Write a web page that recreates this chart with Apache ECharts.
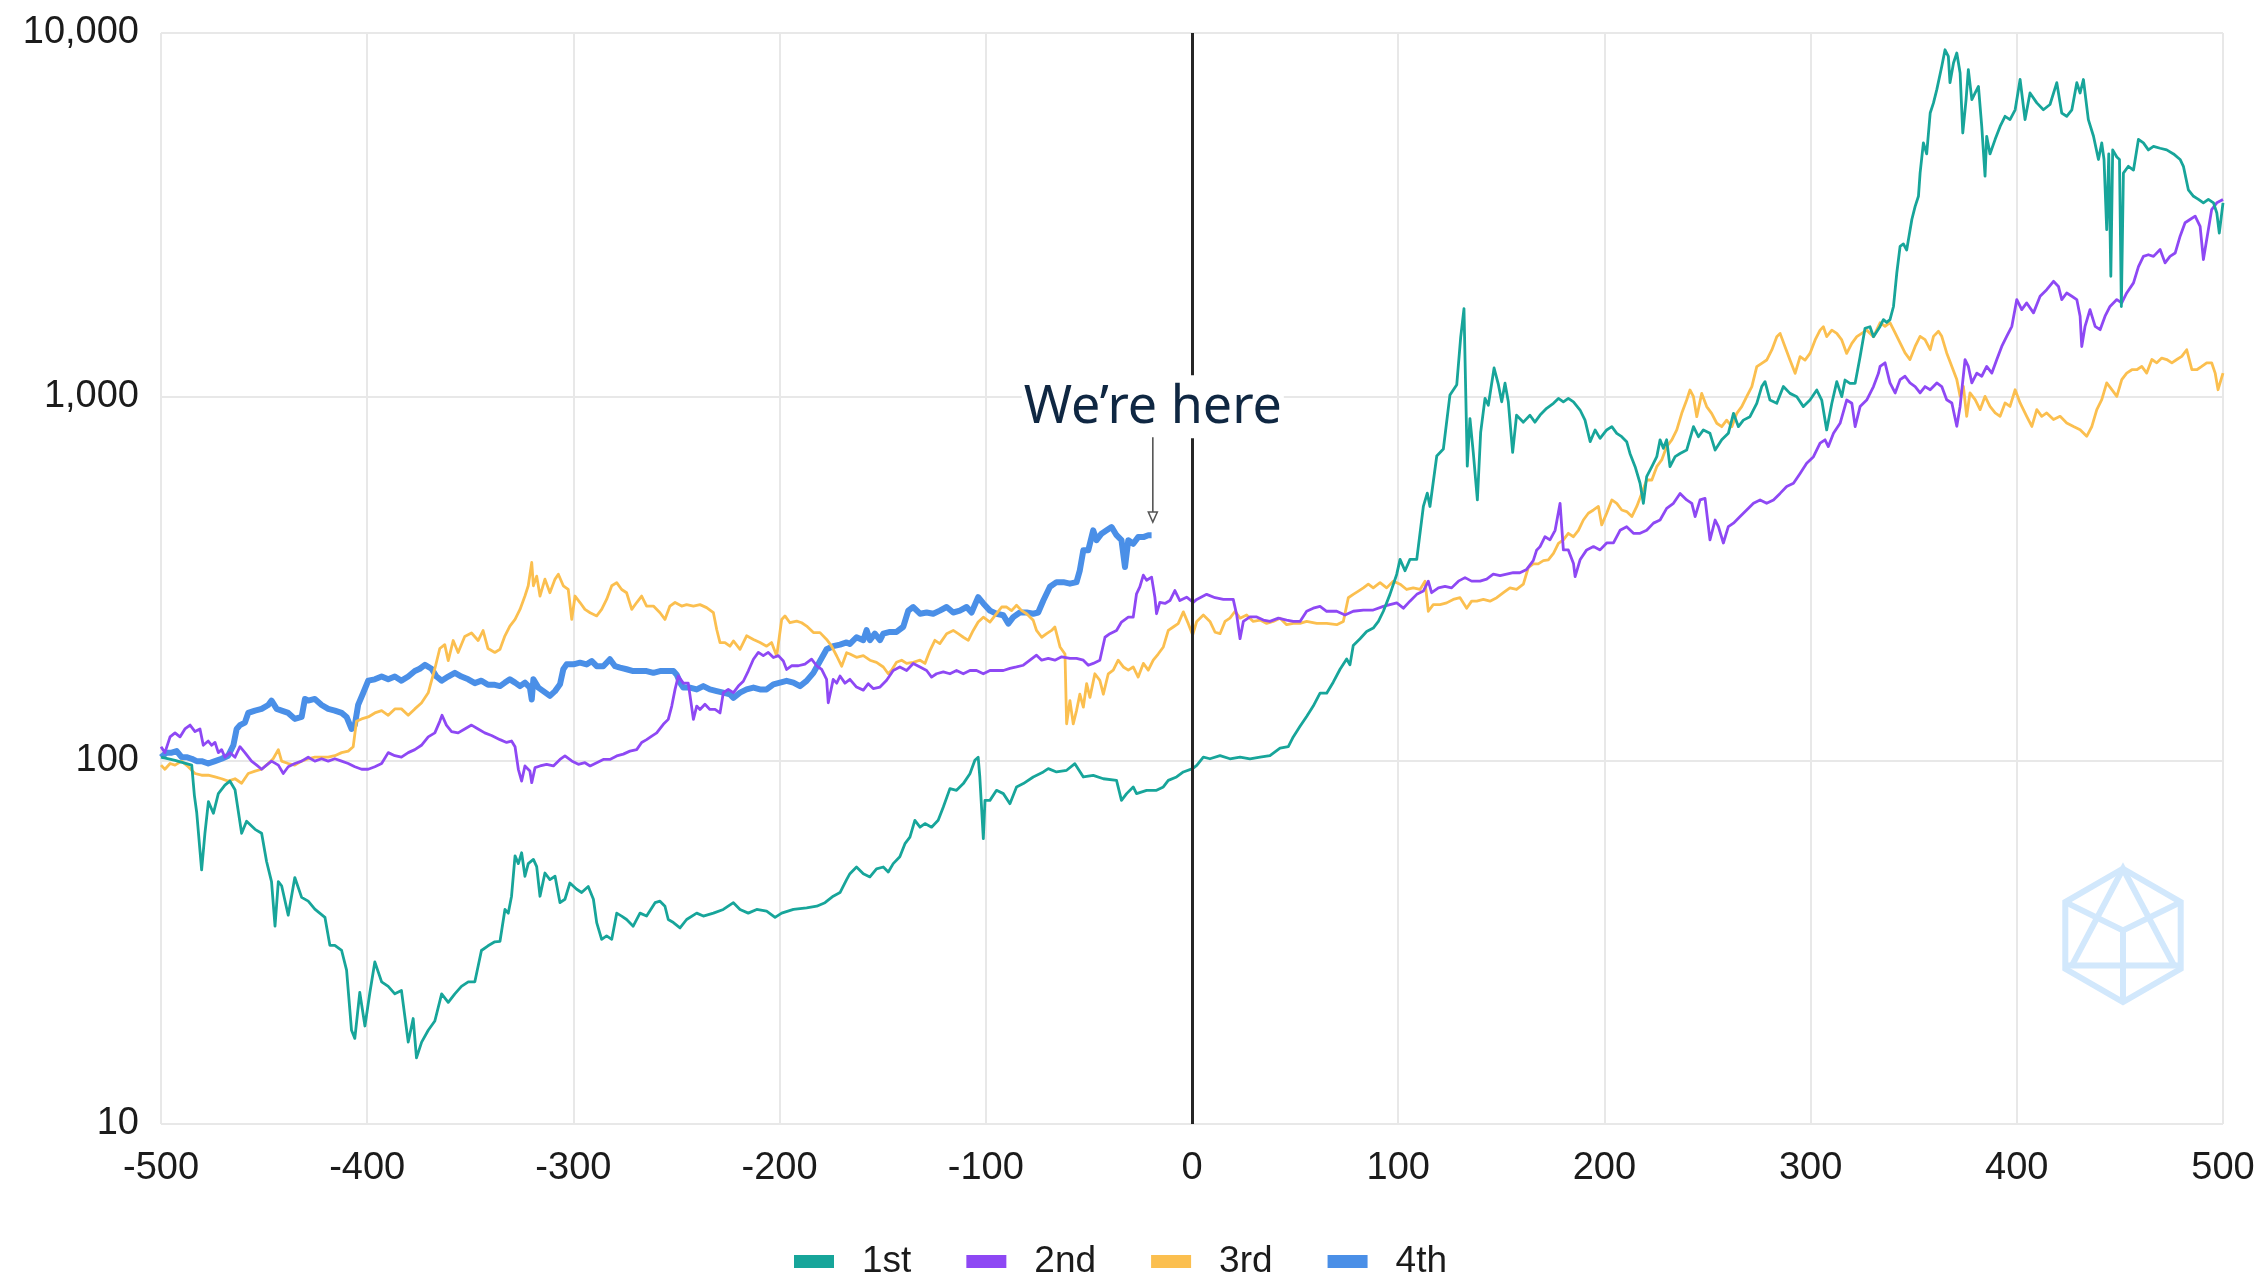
<!DOCTYPE html>
<html><head><meta charset="utf-8">
<script src="https://cdn.jsdelivr.net/npm/echarts@6/dist/echarts.min.js"></script>
<style>html,body{margin:0;padding:0;background:#fff}#c{width:2258px;height:1277px}</style>
</head><body><div id="c"></div>
<script>
const seriesNames = ['1st', '2nd', '3rd', '4th'];
const seriesColors = ['#17a59a', '#8e48f4', '#fbbf4f', '#4a8fe7'];

const firstSeries = [[-500,102],[-493.2,100],[-485.1,97],[-483.8,80],[-482.7,72],[-480.3,50],[-478.7,63],[-477,77],[-474.6,71.5],[-472.2,81],[-469,85.5],[-466.6,87.7],[-464.1,83],[-460.9,63],[-458.5,68],[-454.4,64.6],[-451.2,63],[-448.8,52.7],[-446.4,46.4],[-444.7,35],[-443.1,46.4],[-441.5,45.2],[-438.3,37.5],[-435.1,47.6],[-431.8,42],[-428.6,41],[-425.4,39],[-420.5,37],[-418.1,31],[-415.7,31],[-412.4,30],[-410,26.5],[-407.6,18.1],[-406,17.2],[-403.6,23],[-401.1,18.6],[-398.7,23],[-396.3,27.9],[-393,24.6],[-389.8,23.9],[-386.6,22.8],[-383.4,23.3],[-380.1,16.8],[-377.7,19.5],[-376.1,15.2],[-373.6,16.8],[-370.4,18.1],[-367.2,19.2],[-363.9,22.8],[-360.7,21.6],[-357.5,22.8],[-354.3,23.9],[-351,24.6],[-347.8,24.6],[-344.6,30],[-341.4,30.9],[-338.1,31.7],
[-335.6,31.8],[-333.2,38.9],[-331.6,38],[-330,42.3],[-328.3,54.6],[-326.7,52],[-325.1,55.7],[-323.5,48],[-321.9,52],[-319.4,53.4],[-317.8,51],[-316.2,42.3],[-313.8,49],[-311.4,47],[-308.9,48],[-306.5,40.6],[-304.1,41.5],[-301.7,46],[-298.4,44.2],[-296,43.3],[-292.8,45],[-290.3,41.5],[-288.7,35.8],[-286.3,32.2],[-283.9,32.9],[-281.4,32.2],[-279,38],[-276.6,37.3],[-274.2,36.5],[-271,35],[-267.7,38],[-264.5,37.3],[-260.4,40.6],[-258,41],[-255.6,39.7],[-254,36.5],[-251.5,35.8],[-248.3,34.6],[-245.1,36.5],[-240.2,38],[-237,37.3],[-232.1,38],[-227.3,38.9],[-222.4,40.6],[-219.2,38.9],[-215.2,38],[-211.1,38.9],[-206.3,38.5],[-202.2,37],[-199,38],[-193.3,38.9],[-186.9,39.3],[-182,39.7],[-178,40.6],[-174,42.3],[-170.7,43.3],[-167.5,47],
[-165.9,48.8],[-162.7,50.9],[-159.4,48.8],[-156.2,47.8],[-153,50.3],[-149.7,50.9],[-147.3,49.3],[-144.9,52],[-141.7,54.3],[-139.2,59],[-136.8,61.5],[-134.4,68.4],[-131.9,65.5],[-129.5,67],[-126.3,65.5],[-123.1,68.4],[-120.6,74.4],[-117.4,83.6],[-114.2,82.7],[-110.9,86.3],[-107.7,91.9],[-105.3,100],[-103.7,102],[-102.9,90],[-101.2,60.9],[-100.4,77.6],[-98,77.6],[-94.8,82.7],[-91.5,81],[-88.3,76],[-85.1,84.5],[-81.8,86.3],[-77,90],[-72.1,92.9],[-69.7,94.9],[-65.7,92.9],[-60.8,93.9],[-56.8,97.9],[-52.7,90],[-47.9,90.9],[-43,89],[-36.6,88.1],[-34.2,77.6],[-31.7,81],[-28.5,84.5],[-26.9,81],[-22,82.7],[-17.2,82.7],[-13.9,84.5],[-11.5,88.1],[-7.5,90],[-4.2,92.9],[0.3,94.9],
[2.3,96.8],[5.5,102],[8.7,101],[13.6,103],[18.4,101],[23.3,102],[28.1,101],[33,102],[37.8,103],[42.7,108],[46.7,109],[49.1,116],[52.4,124],[55.6,132],[58.8,141],[62.1,153],[65.3,153],[68.5,164],[71.8,178],[75,190],[76.6,183],[78.2,207],[81.5,216],[84.7,226],[87.9,231],[90.4,241],[92.8,257],[96,286],[99.3,325],[100.9,357],[103.3,332],[105.7,357],[109,357],[112.2,499],[114.1,543],[115.4,499],[118.7,687],[121.9,718],[125.1,1011],[128.4,1079],[130.3,1456],[131.9,1746],[133.5,644],[134.8,870],[136.4,703],[138.4,520],[140,798],[142.1,989],[143.7,947],[146.5,1199],[148.6,1079],[150.2,968],[151.8,1089],[153.4,968],[155.5,703],[157.4,889],[160.7,851],[163.9,889],[166.3,851],
[168.8,890],[172,929],[175.3,959],[177.7,989],[180.1,968],[182.5,989],[185,968],[188.2,919],[190.6,862],[193.1,752],[195.5,810],[197.9,768],[201.1,810],[203.6,827],[206,793],[208.4,776],[210.8,752],[212.4,698],[214.9,642],[217.3,578],[218.9,509],[220.5,603],[223,642],[225.4,684],[227,761],[228.6,721],[230.2,761],[231.8,642],[234.3,684],[236.7,698],[239.9,713],[243.2,827],[245.6,776],[248,810],[251.2,793],[253.7,713],[256.9,761],[260.1,793],[262.6,900],[265,827],[267.4,862],[270.6,881],[273.9,959],[276.3,1066],[277.9,1100],[280.3,979],[283.6,959],[286.8,1066],[290,1021],[293.3,1000],[296.5,939],[299.7,979],[303,1043],[305.4,979],[307.8,810],[310.3,959],[312.7,1100],[315.1,1000],[316.7,1111],[319.1,1088],[321.6,1088],[324,1288],[326.4,1542],[328.8,1557],[330.5,1462],
[333.7,1560],[335.3,1629],[336.9,1600],[338.5,1629],[340.2,1770],[341.8,2188],[343.4,2590],[345,2630],[346.6,2530],[349.1,3070],[350.7,3337],[352.3,3556],[353.1,4120],[354.7,4986],[356.3,4650],[358,6026],[359.6,6424],[361.2,6987],[363.6,8093],[365.2,8992],[366.8,8620],[367.6,7300],[369.3,8270],[370.9,8810],[372.5,7762],[373.8,5310],[375.4,6560],[376.5,7930],[378.2,6560],[379.8,6840],[381.4,7130],[383,5536],[384.6,4040],[385.4,5200],[387,4650],[389.5,5100],[391.9,5536],[394.3,5900],[396.7,5780],[399.2,6150],[401.6,7450],[404,5780],[406.4,6840],[409.7,6424],[412.9,6150],[416.1,6360],[419.4,7300],[421.8,6026],[424.2,5900],[426.7,6150],[429.1,7300],[430.7,6840],[432.3,7450],[434.7,5780],[437.2,5200],[439.6,4490],[441.2,4986],[442.3,4490],[443.6,2878],[444.6,4650],[445.6,2143],[446.5,4770],[448.5,4560],[449.8,4490],[450.7,1770],[451.7,4120],[454.1,4300],[456.6,4200],[459,5100],[461.4,4986],[463.8,4770],[466.3,4880],[469.5,4820],[472.7,4770],[476,4650],[479.2,4490],[480.8,4300],[483.2,3705],[485.7,3556],[488.1,3487],[490.5,3410],[492.9,3487],[495.4,3410],[497,3199],[498.2,2818],[500,3410]];

const secondSeries = [[-500,109],[-498.1,105],[-495.6,116],[-493.2,119],[-490.8,116],[-488.4,122],[-485.9,125],[-483.5,120],[-481.1,122],[-479.5,110],[-477.1,113],[-475.4,110],[-473.8,112],[-472.2,105],[-470.6,107],[-469,102],[-466.6,105],[-464.1,102],[-461.7,109],[-459.3,105],[-456.1,99.5],[-453.6,97],[-451.2,94.5],[-448.8,97],[-446.4,99.5],[-443.1,97],[-440.7,92],[-438.3,96],[-435.1,98],[-431.8,99.5],[-428.6,102],[-425.4,99.5],[-422.1,101],[-418.9,99.5],[-415.7,101],[-412.4,99.5],[-409.2,98],[-406,96],[-402.7,94.5],[-399.5,94.5],[-396.3,96],[-393,98],[-389.8,105],[-386.6,103],[-383.4,102],[-380.1,105],[-376.9,107],[-373.7,110],[-370.4,116],[-367.2,119],[-364.8,128],[-363.7,133],[-361.6,125],[-359.1,120],[-355.9,119],[-352.7,122],[-349.4,125],[-346.2,122],[-343,119],[-339.7,117],
[-335.6,114],[-332.4,112],[-330,113],[-328.3,109],[-326.7,94.5],[-325.1,87.7],[-323.5,96.5],[-321.1,93.5],[-320.2,86.8],[-318.6,95.5],[-316.2,96.5],[-313,97.5],[-309.7,96.5],[-306.5,100.6],[-304.1,102.8],[-300.8,99.6],[-297.6,97.5],[-294.4,98.5],[-291.9,96.5],[-288.7,98.5],[-285.5,100.6],[-282.3,100.6],[-279,102.8],[-275.8,104],[-272.6,106],[-269.3,107],[-266.9,112],[-264.5,114],[-262,116.6],[-259.6,119],[-256.4,125.6],[-254,129.6],[-252.3,141],[-250.7,156.7],[-249.1,170.6],[-246.7,163],[-244.3,163],[-241.8,129.6],[-240.2,141],[-238.6,138],[-236.2,142.6],[-233.8,138],[-231.3,138],[-228.9,135],[-227.3,153.5],[-224.9,156.7],[-222.4,153.5],[-220,160],[-217.6,165],[-215.2,176],[-212.7,189.7],[-210.3,198],[-207.9,194],[-205.5,198],[-203,191.8],[-200.6,194],[-198.2,187.5],[-196.6,177.8],[-194.2,182],[-190.9,182],[-187.7,184],[-184.5,189.7],[-182,182],[-179.6,177.8],[-177.2,167],[-176.4,144],[-174,167],[-172.3,163],[-170.7,170.6],[-168.3,163],[-165.9,167],
[-162.7,159],[-159.4,156],[-157,162.5],[-154.6,157.5],[-151.3,159],[-148.1,166],[-144.9,176.6],[-141.7,180.6],[-138.4,176.6],[-135.2,184.7],[-131.9,180.6],[-128.7,176.6],[-126.3,169.4],[-123.9,173],[-120.6,175],[-117.4,173],[-114.2,176.6],[-110.9,173],[-107.7,176.6],[-104.5,176.6],[-101.2,173],[-98,176.6],[-94.8,176.6],[-91.5,176.6],[-88.3,179],[-85.1,180.6],[-81.8,182.6],[-78.6,188.5],[-75.4,194.6],[-72.9,188.5],[-69.7,190.6],[-66.5,188.5],[-63.2,192.6],[-59.2,190.6],[-56,190.6],[-52.7,188.5],[-50.3,182.6],[-47.9,184.7],[-44.7,188.5],[-42.2,218],[-39.8,223],[-36.6,227.6],[-34.2,240],[-30.9,247.6],[-28.5,247.6],[-26.9,287],[-25.3,300],[-23.6,323],[-22,312.7],[-19.6,319],[-18,281],[-17.2,253],[-15.6,272],[-13.1,270],[-10.7,275],[-8.3,293],[-5.9,275],[-2.6,281],[0.6,272],
[2.3,277],[7.1,286],[11.2,280],[15.2,277],[20,277],[21.7,251],[23.3,216],[24.9,241],[28.1,248],[31.4,248],[34.6,243],[37.8,241],[41.9,246],[45.9,243],[49.1,241],[52.4,241],[55.6,257],[58.8,262],[62.1,265],[65.3,257],[70.2,257],[74.2,251],[78.2,257],[83.1,259],[87.9,259],[92.8,265],[96,268],[99.3,271],[102.5,262],[105.7,274],[109,286],[112.2,292],[114.6,311],[116.2,289],[119.5,298],[122.7,301],[125.9,298],[129.2,311],[132.4,318],[135.6,311],[139.7,311],[142.9,315],[146.1,325],[149.4,322],[152.6,325],[155.8,328],[159,328],[162.3,335],[165.5,354],[167.1,378],
[168.8,387],[171.2,412],[173.6,404],[176.1,429],[178.5,509],[180.1,379],[182.5,379],[185,348],[185.8,320],[188.2,356],[191.4,379],[194.7,387],[197.9,379],[201.1,396],[204.4,396],[207.6,429],[210.8,439],[214.1,421],[217.3,421],[220.5,429],[223.8,449],[227,458],[230.2,493],[233.5,509],[236.7,542],[239.9,520],[242.4,509],[244,468],[246.4,520],[248.8,525],[251.2,404],[253.7,458],[255.3,439],[257.7,396],[260.1,439],[262.6,449],[265.8,468],[269,488],[272.3,509],[275.5,520],[278.7,509],[282,520],[285.2,542],[288.4,566],[291.7,578],[294.9,615],[298.1,656],[301.4,684],[304.6,745],[307,761],[308.6,729],[311.1,793],[314.3,845],[317.5,979],[320,959],[321.6,827],[324,939],[327.2,979],[330.5,1066],[332.9,1159],
[333.7,1211],[336.1,1239],[338.5,1091],[341,1024],[343.4,1114],[345.8,1138],[348.2,1091],[350.7,1066],[353.1,1024],[355.5,1066],[358,1045],[361.2,1091],[363.6,1066],[366,981],[368.5,961],[370.9,829],[372.5,940],[374.9,1265],[376.5,1211],[378.2,1091],[380.6,1161],[383,1138],[385.4,1211],[387.9,1161],[390.3,1265],[392.7,1374],[395.1,1465],[397.6,1561],[400,1849],[402.4,1735],[404.8,1810],[408.1,1700],[411.3,1888],[414.5,1968],[417.8,2076],[420.2,2010],[421.8,1849],[424.2,1928],[426.7,1888],[429.1,1849],[430.7,1664],[431.5,1374],[433.1,1561],[435.5,1735],[438,1561],[440.4,1528],[442.8,1664],[445.2,1770],[448.5,1849],[450.9,1810],[453.3,1928],[456.6,2055],[459,2279],[461.4,2431],[463.8,2456],[466.3,2431],[469.5,2538],[471.9,2333],[474.3,2431],[476.8,2483],[479.2,2762],[481.6,3007],[484,3070],[486.5,3137],[488.9,2940],[490.5,2383],[492.1,2705],[494.5,3268],[497,3412],[500,3485]];

const thirdSeries = [[-500,97],[-498.1,94.5],[-495.6,98],[-493.2,97],[-490,99.5],[-486.8,96],[-483.5,92],[-480.3,91],[-477.1,91],[-473.8,90],[-470.6,89],[-467.4,87.7],[-464.1,89],[-460.9,86.5],[-457.7,92],[-454.4,93.4],[-451.2,94.5],[-448,98],[-445.6,101],[-443.1,107],[-441.5,99.5],[-438.3,98],[-435.1,97],[-431.8,99.5],[-428.6,101],[-425.4,102],[-422.1,102],[-418.9,102],[-415.7,103],[-412.4,105],[-409.2,106],[-406.8,109],[-405.2,128],[-402.7,130],[-399.5,131.6],[-396.3,135],[-393,137],[-389.8,133],[-386.6,138.5],[-383.4,138.5],[-380.1,133],[-376.9,138.5],[-373.7,143.8],[-370.4,153.4],[-367.2,178.6],[-364.8,203],[-362.4,208],[-360.7,188],[-358.3,213.5],[-355.9,198],[-352.7,219],[-349.4,224],[-346.2,213.5],[-343.8,227.5],[-341.4,203],[-338.1,198],
[-335.6,202],[-333.2,220],[-330.8,234],[-328.3,244],[-325.9,260],[-323.5,283],[-321.9,302],[-320.2,350],[-319.4,302],[-317.8,321],[-316.2,283],[-313.8,315],[-311.4,289],[-308.9,315],[-307.3,325],[-304.9,302],[-302.5,295],[-300.8,244],[-299.2,283],[-296.8,271.6],[-294.4,260],[-291.9,254.6],[-288.7,249.5],[-286.3,260],[-283.9,277],[-281.4,302],[-279,308],[-276.6,295],[-274.2,289],[-271.7,260],[-269.3,271.6],[-266.9,283],[-264.5,265.6],[-261.2,265.6],[-258,254.6],[-255.6,244],[-253.2,265.6],[-250.7,271.6],[-247.5,265.6],[-245.1,268],[-241.8,265.6],[-238.6,268],[-235.4,263],[-232.1,254.6],[-230.5,229],[-228.9,210.8],[-226.5,210.8],[-224.1,206],[-222.4,213],[-219.2,202],[-216,220],[-212.7,215],[-209.5,210.8],[-206.3,206],[-203.9,210.8],[-201.4,193.6],[-199,244],[-197.4,249.5],[-195,239],[-191.7,241.5],[-189.3,239],[-186.9,234],[-183.6,224.5],[-180.4,224.5],[-177.2,215],[-174.8,206],[-172.3,193.6],[-169.9,181.5],[-167.5,197.7],
[-165.9,196],[-162.7,192],[-159.4,194],[-156.2,188.5],[-153,186],[-149.7,180.6],[-147.3,173],[-145.7,177],[-143.3,186],[-140.8,188.5],[-138.4,184.7],[-135.2,186],[-131.9,188.5],[-129.5,184.7],[-127.1,200.4],[-124.7,213.8],[-122.3,209.4],[-119,223],[-115.8,227.6],[-113.4,223],[-110.9,218],[-108.5,213.8],[-106.1,227.6],[-103.7,240],[-101.2,247.6],[-98,240],[-94.8,253],[-92.3,264],[-89.9,264],[-87.5,258],[-85.1,267],[-82.6,258],[-80.2,253],[-77,242.6],[-75.4,227.6],[-72.9,218],[-70.5,223],[-68.1,227.6],[-66.5,232.6],[-64,205],[-61.6,196],[-60.8,126],[-59.2,146],[-57.6,126],[-56,137],[-54.4,152],[-52.7,140],[-51.1,162.5],[-49.5,149],[-47.1,173],[-44.7,166],[-43,152],[-40.6,173],[-38.2,177],[-35.8,188.5],[-33.3,180.6],[-30.9,177],[-28.5,180.6],[-26.1,169.4],[-23.6,184.7],[-21.2,177],[-18.8,188.5],[-16.4,196],[-13.9,205],[-11.5,227.6],[-9.1,232.6],[-6.7,237.6],[-4.2,256],[-1.8,237.6],[0.3,221],
[2.3,241],[5.5,251],[8.7,241],[11.2,225],[13.6,223],[16,241],[18.4,246],[20.9,257],[23.3,246],[26.5,251],[29.7,241],[33,243],[36.2,238],[39.4,241],[42.7,246],[45.9,236],[49.1,238],[52.4,238],[55.6,241],[60.5,238],[65.3,238],[70.2,236],[73.4,241],[75.8,280],[78.2,286],[80.7,292],[83.1,298],[85.5,305],[87.9,298],[91.2,308],[94.4,298],[97.6,311],[100.9,305],[104.1,295],[107.3,298],[110.6,295],[113,311],[114.6,257],[117,268],[120.3,268],[123.5,271],[126.7,277],[130,280],[133.2,262],[135.6,274],[138.1,274],[141.3,277],[144.5,274],[147.8,280],[151,289],[154.2,298],[157.4,295],[160.7,305],[163.1,339],[165.5,347],[167.9,347],
[170.4,354],[172.8,356],[175.3,371],[177.7,395],[180.1,404],[182.5,421],[185,412],[187.4,429],[189.8,458],[192.2,478],[194.7,488],[197.1,499],[198.7,444],[201.1,478],[203.6,520],[206,509],[208.4,488],[210.8,483],[213.3,468],[215.7,499],[218.1,542],[220.5,590],[223,590],[225.4,642],[227.8,670],[230.2,729],[232.7,761],[235.1,810],[237.5,900],[239.9,979],[241.5,1043],[243.2,1000],[244.8,881],[247.2,1021],[249.6,939],[252,900],[254.5,845],[256.9,827],[259.3,862],[261.8,827],[264.2,900],[266.6,939],[269,1000],[271.5,1066],[273.9,1209],[276.3,1235],[278.7,1261],[281.2,1344],[283.6,1462],[285.2,1493],[287.6,1372],[290,1261],[292.5,1159],[294.9,1288],[297.3,1261],[299.7,1315],[302.2,1432],[304.6,1524],[306.2,1557],[307.8,1462],[310.3,1524],[312.7,1493],[315.1,1432],[317.5,1315],[320,1402],[322.4,1462],[324.8,1493],[327.2,1524],[330.5,1462],
[333.7,1597],[336.1,1560],[338.5,1597],[341,1497],[343.4,1406],[345.8,1319],[348.2,1265],[350.7,1374],[353.1,1465],[355.5,1435],[358,1346],[359.6,1465],[362,1513],[363.6,1465],[366,1319],[368.5,1211],[370.9,1114],[372.5,1002],[374.1,1067],[375.7,883],[377.3,1024],[379.8,981],[382.2,921],[384.6,1002],[387,940],[389.5,902],[391.9,883],[394.3,961],[396.7,940],[399.2,1045],[401.6,961],[404.8,883],[407.3,828],[409.7,921],[412.1,883],[414.5,902],[417.8,865],[421,883],[424.2,847],[427.5,828],[430.7,811],[433.9,778],[436.4,828],[438.8,921],[441.2,981],[443.6,1091],[446.1,1045],[448.5,1002],[450.9,1114],[453.3,1161],[455.8,1186],[458.2,1186],[460.6,1211],[463,1161],[465.5,1265],[467.9,1239],[470.3,1277],[472.7,1265],[475.2,1239],[477.6,1265],[480,1291],[482.4,1346],[484.9,1186],[487.3,1186],[489.7,1211],[492.1,1239],[494.5,1239],[496.2,1161],[497.6,1045],[500,1161]];

const fourthSeries = [[-500,102],[-497.3,105],[-494.8,105],[-492.4,106],[-490,102],[-487.6,102],[-485.1,101],[-482.7,99.5],[-480.3,99.5],[-477.1,98],[-473.8,99.5],[-470.6,101],[-467.4,103],[-464.9,110],[-463.3,122],[-461.7,125],[-459.3,127],[-457.7,135],[-454.4,137],[-451.2,138.5],[-448,142],[-446.4,146],[-443.9,138.5],[-441.5,137],[-438.3,135],[-435.1,130],[-431.8,131.6],[-430.2,147.5],[-428.6,146],[-425.4,147.5],[-422.1,142],[-418.9,138.5],[-415.7,137],[-412.4,135],[-410,131.6],[-407.6,122],[-406,125],[-404.4,142],[-401.9,153.4],[-399.5,165.6],[-396.3,167],[-393,170],[-389.8,167],[-386.6,170],[-383.4,165.6],[-380.1,170],[-376.9,176],[-374.5,178.6],[-372,183],[-368.8,178.6],[-366.4,170],[-363.9,165.6],[-360.7,170],[-357.5,174],[-354.3,170],[-351,167],[-347.8,163],[-344.6,165.6],[-341.4,161.3],[-338.1,161.3],
[-335.6,160],[-333.2,163.6],[-330.8,167],[-328.3,163.6],[-325.9,160],[-323.5,163.6],[-321.1,158.5],[-320.2,147],[-319.4,167],[-317,158.5],[-314.6,155],[-311.4,150.4],[-308.9,155],[-306.5,161.8],[-304.9,178],[-303.3,183.6],[-300,183.6],[-296.8,185.6],[-293.6,183.6],[-291.1,187.5],[-288.7,181.5],[-285.5,181.5],[-282.3,189.7],[-279.8,181.5],[-277.4,179.8],[-274.2,178],[-271,176],[-267.7,176],[-264.5,176],[-261.2,174],[-258,176],[-254.8,176],[-251.5,176],[-249.9,172],[-248.3,163.6],[-246.7,158.5],[-243.5,158.5],[-240.2,156.7],[-237,160],[-233.8,156.7],[-230.5,155],[-227.3,153.5],[-224.1,151.9],[-222.4,148.6],[-219.2,153.5],[-216,156.7],[-212.7,158.5],[-209.5,156.7],[-206.3,156.7],[-203,161.8],[-199.8,163.6],[-196.6,165.4],[-193.3,163.6],[-190.1,160],[-186.9,165.4],[-183.6,174],[-180.4,187.5],[-177.2,202],[-174,206],[-170.7,208],[-167.5,211],
[-165.9,209],[-162.7,218],[-159.4,214],[-157.8,228],[-156.2,214],[-153.8,223],[-151.3,214],[-149.7,223],[-146.5,225.5],[-143.3,225.5],[-140,233],[-137.6,258],[-135.2,264],[-131.9,253],[-128.7,255],[-125.5,253],[-122.3,258],[-119,264],[-115.8,255],[-112.6,258],[-109.3,264],[-106.9,255],[-103.7,281],[-101.2,270],[-98,258],[-94.8,253],[-91.5,250.6],[-89.1,237.7],[-86.7,247.6],[-83.5,255],[-80.2,255],[-77,253],[-74.6,255],[-72.1,275],[-68.9,300],[-65.7,309],[-62.4,309],[-59.2,306],[-56,309],[-54.4,333],[-52.7,378],[-50.3,378],[-47.9,429],[-46.3,403],[-43.9,420],[-41.4,429],[-39,438],[-36.6,416],[-34.2,403],[-32.5,340],[-30.9,403],[-28.5,394],[-26.1,411],[-23.6,411],[-21.2,416],[-19.6,416]];

// annotation anchor (data coordinates)
const annotationText = 'We\u2019re here';
const annotationDay = -19;
const annotationLabelValue = 935;
const annotationTailValue = 774;
const annotationTipValue = 452;
const todayDay = 0;

const FONT = '"Liberation Sans", Arial, sans-serif';
const chart = echarts.init(document.getElementById('c'), null, {renderer: 'canvas'});

const allData = [firstSeries, secondSeries, thirdSeries, fourthSeries];
const widths = [2.8, 2.8, 2.8, 6];
const zs = [4, 3, 2, 1];

const series = seriesNames.map((name, i) => ({
  name,
  type: 'line',
  data: allData[i],
  showSymbol: false,
  symbol: 'none',
  z: zs[i],
  color: seriesColors[i],
  lineStyle: {width: widths[i], color: seriesColors[i], join: 'round'},
  emphasis: {disabled: true},
  animation: false
}));
series[0].markLine = {
  silent: true,
  symbol: ['none', 'none'],
  label: {show: false},
  lineStyle: {color: '#262626', width: 3, type: 'solid'},
  data: [{xAxis: todayDay}],
  animation: false
};

chart.setOption({
  animation: false,
  backgroundColor: '#ffffff',
  grid: {left: 161, right: 35, top: 33, bottom: 153, containLabel: false},
  legend: {
    data: seriesNames,
    left: 789,
    top: 1238,
    icon: 'rect',
    itemWidth: 40,
    itemHeight: 13,
    itemGap: 55,
    textStyle: {fontSize: 37, color: '#1b1b1b', fontFamily: FONT, padding: [0, 0, 0, 23]}
  },
  xAxis: {
    type: 'value', min: -500, max: 500, interval: 100,
    axisLine: {show: false}, axisTick: {show: false},
    splitLine: {show: true, lineStyle: {color: '#e8e8e8', width: 2}},
    axisLabel: {fontSize: 38, color: '#1b1b1b', fontFamily: FONT, margin: 26}
  },
  yAxis: {
    type: 'log', logBase: 10, min: 10, max: 10000,
    axisLine: {show: false}, axisTick: {show: false},
    splitLine: {show: true, lineStyle: {color: '#e8e8e8', width: 2}},
    axisLabel: {fontSize: 38, color: '#1b1b1b', fontFamily: FONT, margin: 22,
      formatter: v => Math.round(v).toLocaleString('en-US')}
  },
  series
});

// annotation + watermark, positioned through the chart's own scales
const px = (d, v) => chart.convertToPixel({gridIndex: 0}, [d, v]);
const lab = px(annotationDay, annotationLabelValue);
const tail = px(annotationDay, annotationTailValue);
const tip = px(annotationDay, annotationTipValue);
const wm = px(451.5, 33);
const R = 66.7, H = 57.7;
const wmStyle = {stroke: '#d2e8fc', lineWidth: 6, fill: null, lineJoin: 'miter'};

chart.setOption({
  graphic: {elements: [
    {type: 'rect', z: 100, shape: {x: lab[0] - 131, y: lab[1] - 32, width: 262, height: 63},
      style: {fill: '#ffffff'}},
    {type: 'text', z: 101, x: lab[0], y: lab[1] + 1,
      style: {text: annotationText, fill: '#0f2742', font: '400 52px "Noto Sans", "Open Sans", sans-serif',
        align: 'center', verticalAlign: 'middle'}},
    {type: 'line', z: 101, shape: {x1: tail[0], y1: tail[1], x2: tip[0], y2: tip[1] - 9},
      style: {stroke: '#555555', lineWidth: 1.6}},
    {type: 'polygon', z: 101, shape: {points: [[tip[0] - 4.5, tip[1] - 10], [tip[0] + 4.5, tip[1] - 10], [tip[0], tip[1]]]},
      style: {fill: '#ffffff', stroke: '#555555', lineWidth: 1.5}},
    {type: 'group', z: 5, x: wm[0], y: wm[1], children: [
      {type: 'polygon', shape: {points: [[0, -R], [H, -R / 2], [H, R / 2], [0, R], [-H, R / 2], [-H, -R / 2]]}, style: wmStyle},
      {type: 'polyline', shape: {points: [[-H, 30], [H, 30]]}, style: wmStyle},
      {type: 'polyline', shape: {points: [[-51, 30], [0, -R], [51, 30]]}, style: wmStyle},
      {type: 'polyline', shape: {points: [[-H, -R / 2], [0, -5], [H, -R / 2]]}, style: wmStyle},
      {type: 'polyline', shape: {points: [[0, -5], [0, R]]}, style: wmStyle}
    ]}
  ]}
});
</script>
</body></html>
